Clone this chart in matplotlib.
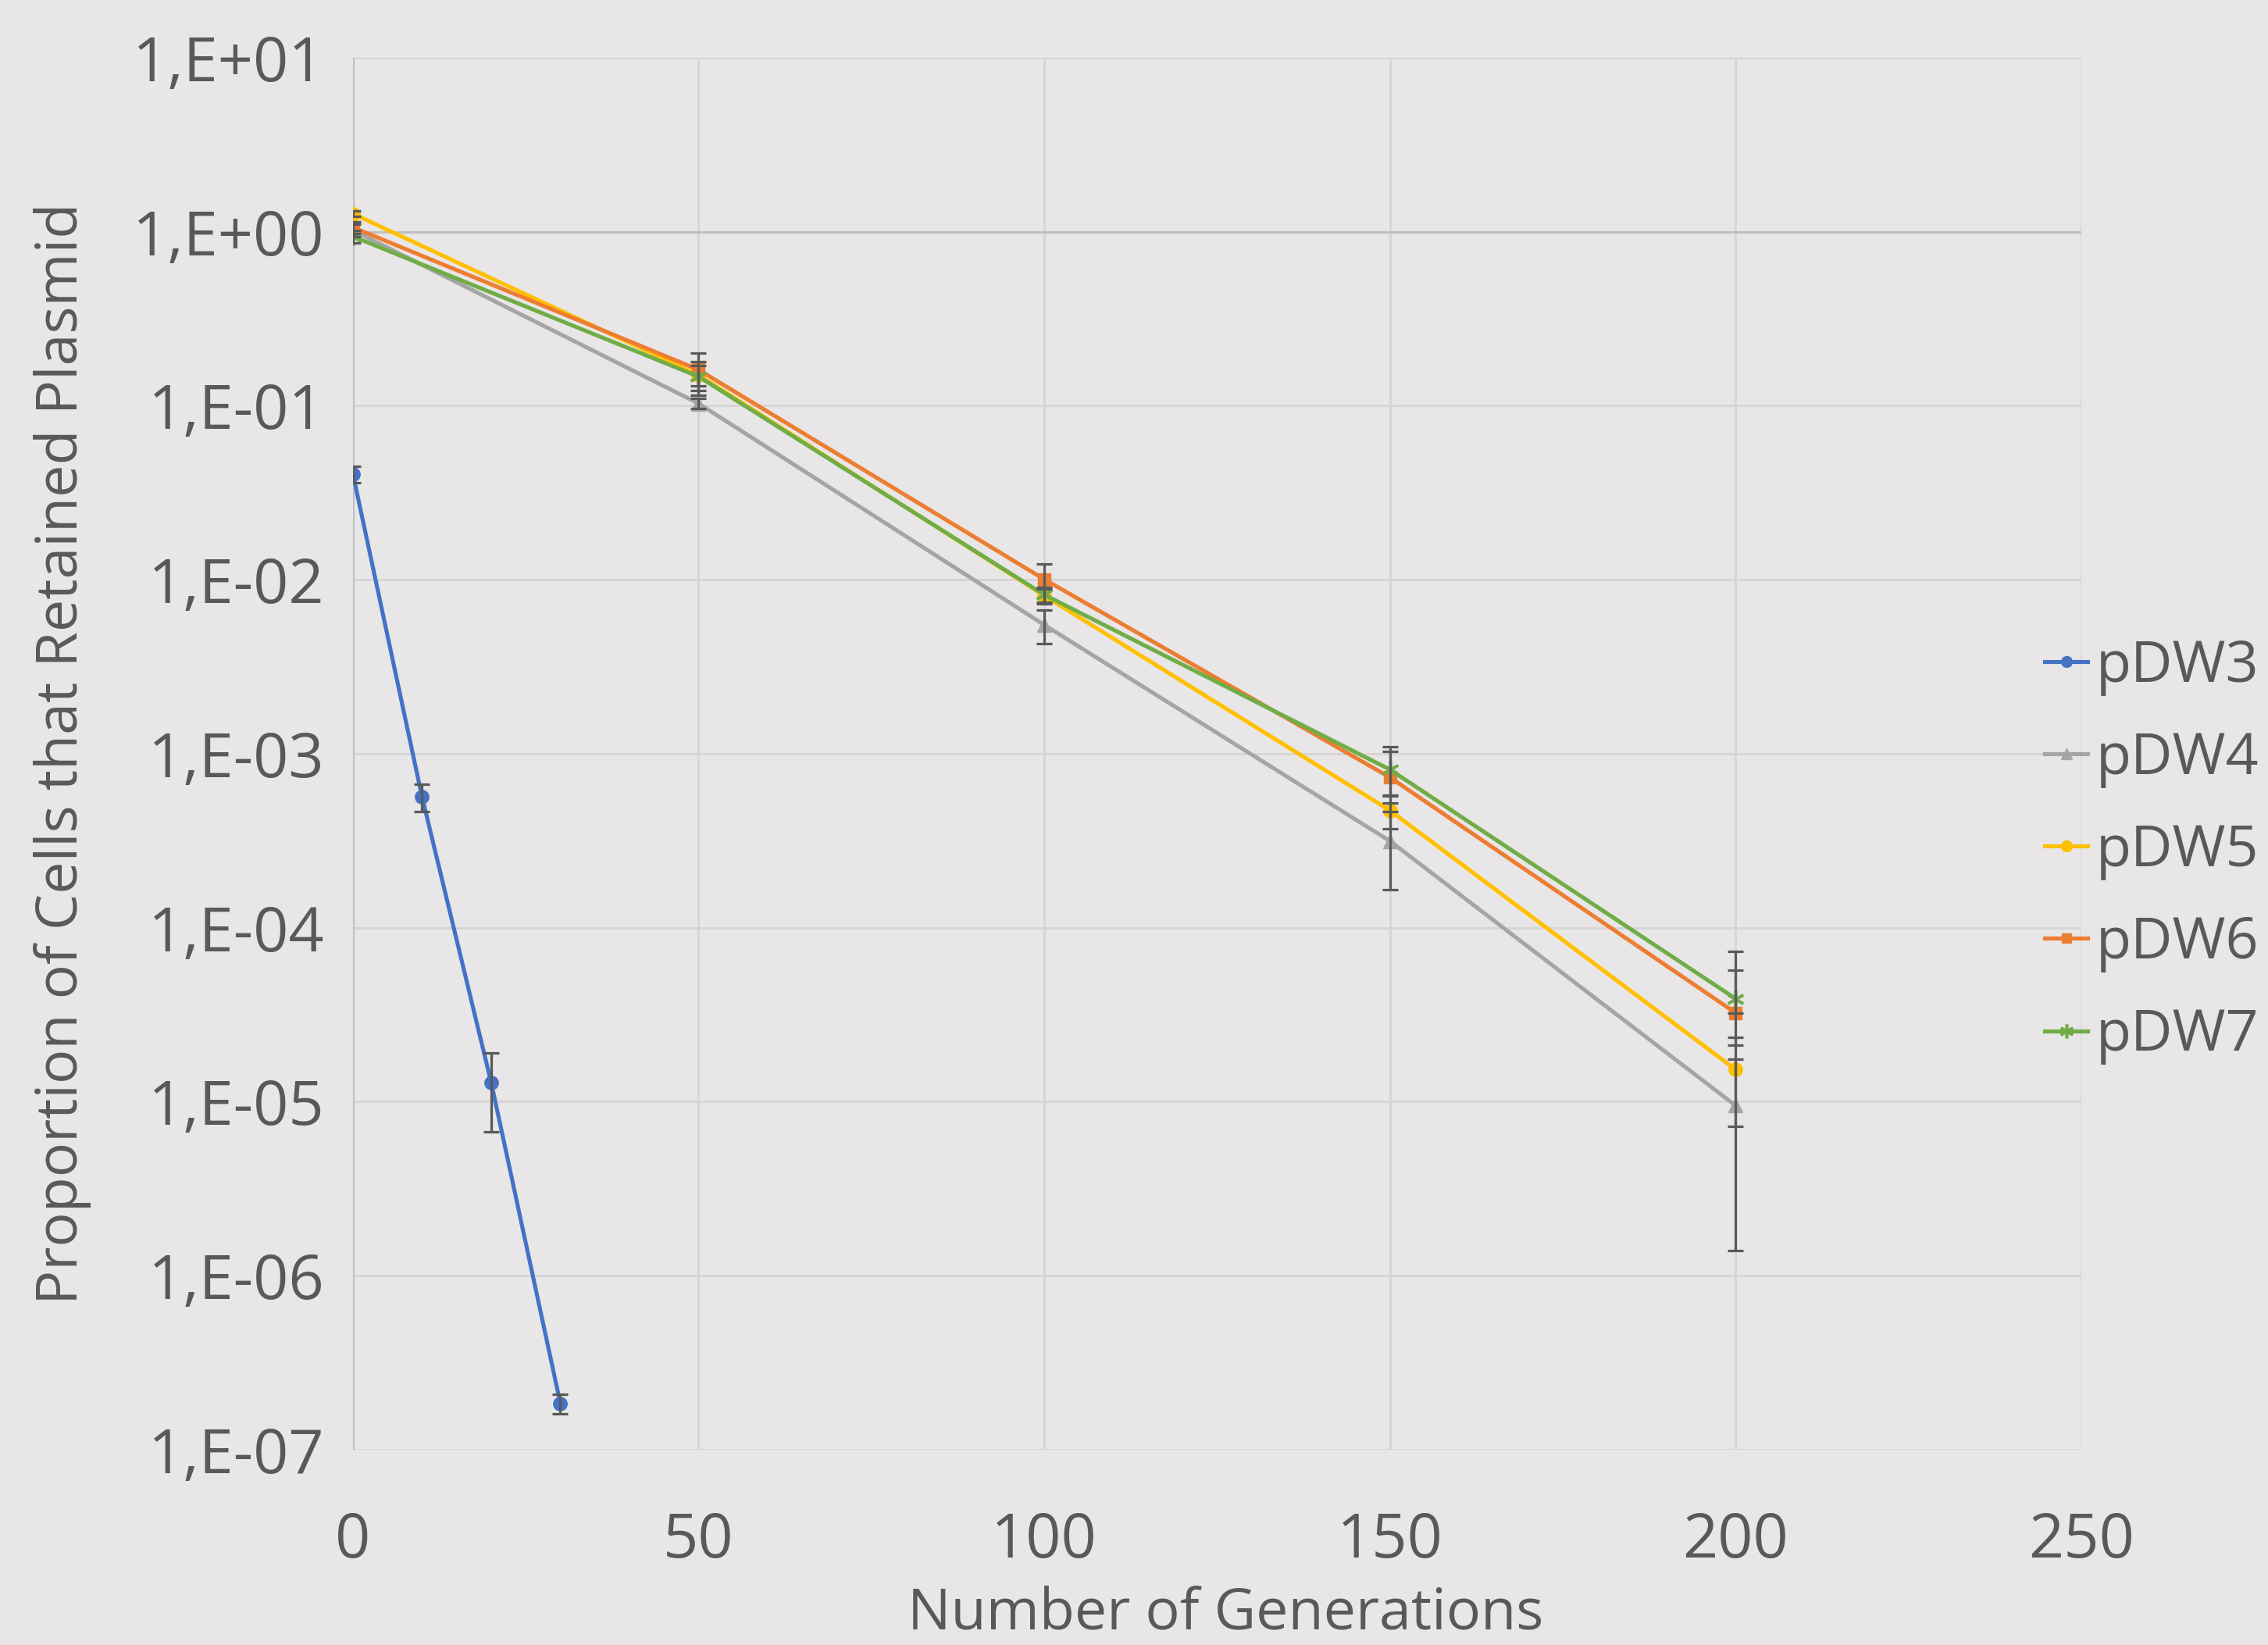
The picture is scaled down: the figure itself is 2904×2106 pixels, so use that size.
import numpy as np
import matplotlib
matplotlib.use("Agg")
import matplotlib.pyplot as plt
from matplotlib.ticker import FixedLocator, FuncFormatter, NullLocator

# Data
gen_pdw3 = [0, 10, 20, 30]
pdw3 = [0.0405, 0.000565, 1.29e-05, 1.85e-07]
pdw3_err = [0.0043, 0.0001, 6.2e-06, 2.4e-08]

gen = [0, 50, 100, 150, 200]
pdw4 = [1.02, 0.103, 0.0055, 0.000315, 9.5e-06]
pdw4_err = [0.08, 0.007, 0.0012, 0.00015, 8.1e-06]
pdw5 = [1.27, 0.150, 0.0081, 0.000472, 1.53e-05]
pdw5_err = [0.05, 0.02, 0.0008, 0.0001, 8.1e-06]
pdw6 = [1.06, 0.161, 0.01005, 0.000731, 3.24e-05]
pdw6_err_lo = [0.08, 0.039, 0.0012, 0.00015, 0.0]
pdw6_err_hi = [0.08, 0.039, 0.0023, 0.0003, 4.1e-05]
pdw7 = [0.94, 0.147, 0.0082, 0.000811, 3.91e-05]
pdw7_err = [0.08, 0.032, 0.0008, 0.00029, 1.8e-05]

names = ["pDW3", "pDW4", "pDW5", "pDW6", "pDW7"]
colors = ["#4472C4", "#A5A5A5", "#FFC000", "#ED7D31", "#70AD47"]
markers = ["o", "^", "o", "s", (6, 2, 0)]
msizes = [12.5, 13, 12.5, 11.5, 16]

bg = "#E8E6E7"
txt = "#595959"
plt.rcParams['font.family'] = ['Open Sans', 'DejaVu Sans']

fig = plt.figure(figsize=(29.04, 21.06), dpi=100, facecolor=bg)
ax = fig.add_axes([0.1556, 0.1187, 0.9177 - 0.1556, 0.9649 - 0.1187])
ax.set_facecolor(bg)

series = [
    (gen_pdw3, pdw3, [pdw3_err, pdw3_err]),
    (gen, pdw4, [pdw4_err, pdw4_err]),
    (gen, pdw5, [pdw5_err, pdw5_err]),
    (gen, pdw6, [pdw6_err_lo, pdw6_err_hi]),
    (gen, pdw7, [pdw7_err, pdw7_err]),
]

for (x, y, err), name, c, m, ms in zip(series, names, colors, markers, msizes):
    mew = 1 if m != (6, 2, 0) else 2.6
    ax.plot(x, y, color=c, lw=3.7, marker=m, ms=ms, mec=c, mfc=c, mew=mew,
            label=name, zorder=3)
    ax.errorbar(x, y, yerr=err, fmt="none", ecolor=txt, elinewidth=2.3,
                capsize=7, capthick=2.3, zorder=4)

ax.set_yscale("log")
ax.set_ylim(1e-7, 10)
ax.set_xlim(0, 250)

ax.yaxis.set_major_locator(FixedLocator([10.0 ** k for k in range(-7, 2)]))
ax.yaxis.set_minor_locator(NullLocator())
ax.yaxis.set_major_formatter(FuncFormatter(lambda v, p: "1,E%+03d" % int(round(np.log10(v)))))
ax.set_xticks([0, 50, 100, 150, 200, 250])

ax.grid(True, color="#D6D4D5", lw=2)
ax.set_axisbelow(True)
for s in ax.spines.values():
    s.set_visible(False)
# axis lines (horizontal axis crosses at 1)
ax.axhline(1.0, color="#BFBFBF", lw=2.2, zorder=1.5)
ax.axvline(0, color="#BFBFBF", lw=2.2, zorder=1.5)

ax.tick_params(axis="both", length=0, labelsize=57, labelcolor=txt)
ax.tick_params(axis="x", pad=56)
ax.tick_params(axis="y", pad=26)

ax.set_xlabel("Number of Generations", fontsize=53, color=txt, va="baseline")
ax.xaxis.set_label_coords(0.505, -0.129)
ax.set_ylabel("Proportion of Cells that Retained Plasmid", fontsize=53, color=txt, va="center")
ax.yaxis.set_label_coords(-0.168, 0.5)

leg = ax.legend(loc="center left", bbox_to_anchor=(0.9015, 0.4824), bbox_transform=fig.transFigure,
                frameon=False, fontsize=53, handlelength=0.75, handletextpad=0.15,
                labelspacing=0.6, borderaxespad=0, borderpad=0, markerscale=0.8)
for t in leg.get_texts():
    t.set_color(txt)

fig.savefig("out.png", dpi=100, facecolor=bg)
